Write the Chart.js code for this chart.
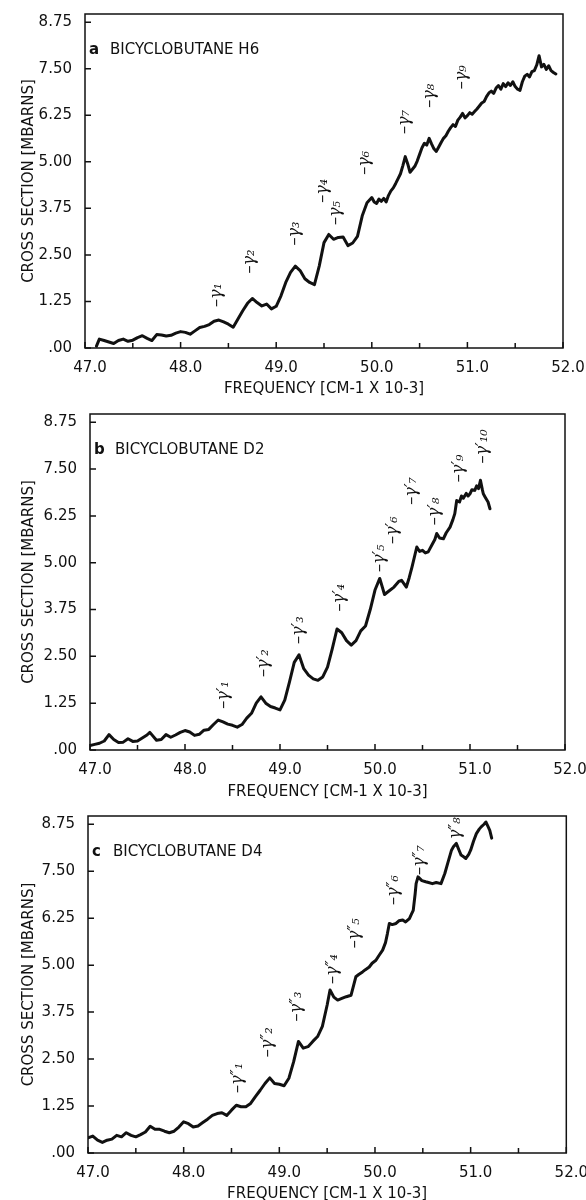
<!DOCTYPE html>
<html>
<head>
<meta charset="utf-8">
<script src="https://cdn.jsdelivr.net/npm/chart.js@4/dist/chart.umd.min.js"></script>
<style>
html, body { margin: 0; padding: 0; background: #fff; }
#wrap { position: relative; width: 586px; height: 1200px; }
canvas { position: absolute; left: 0; }
</style>
</head>
<body>
<div id="wrap">
  <canvas id="chartA" width="586" height="400" style="top:0px"></canvas>
  <canvas id="chartB" width="586" height="400" style="top:400px"></canvas>
  <canvas id="chartC" width="586" height="400" style="top:800px"></canvas>
</div>
<script>
// ticks shared by the three panels
var xTickValues = [47, 47.5, 48, 48.5, 49, 49.5, 50, 50.5, 51, 51.5, 52];
var yTickValues = [0, 1.25, 2.5, 3.75, 5, 6.25, 7.5, 8.75];

// a : bicyclobutane H6
var freqA = [47.12, 47.15, 47.2, 47.25, 47.3, 47.35, 47.4, 47.45, 47.5, 47.55, 47.6, 47.65, 47.7, 47.75, 47.8, 47.85, 47.9, 47.95,
  48.0, 48.05, 48.1, 48.15, 48.2, 48.25, 48.3, 48.35, 48.4, 48.45, 48.5, 48.55, 48.6, 48.65, 48.7, 48.75, 48.8, 48.85, 48.9, 48.95,
  49.0, 49.05, 49.1, 49.15, 49.2, 49.25, 49.3, 49.35, 49.4, 49.45, 49.5, 49.55, 49.6, 49.65, 49.7, 49.75, 49.8, 49.85, 49.9, 49.95,
  50.0, 50.025, 50.05, 50.075, 50.1, 50.125, 50.15, 50.175, 50.2, 50.225, 50.25, 50.275, 50.3, 50.325, 50.35, 50.375, 50.4, 50.425,
  50.45, 50.475, 50.5, 50.525, 50.55, 50.575, 50.6, 50.625, 50.65, 50.675, 50.7, 50.725, 50.75, 50.775, 50.8, 50.825, 50.85, 50.875,
  50.9, 50.925, 50.95, 50.975, 51.0, 51.025, 51.05, 51.075, 51.1, 51.125, 51.15, 51.175, 51.2, 51.225, 51.25, 51.275, 51.3, 51.325,
  51.35, 51.375, 51.4, 51.425, 51.45, 51.475, 51.5, 51.525, 51.55, 51.575, 51.6, 51.625, 51.65, 51.675, 51.7, 51.725, 51.75, 51.775,
  51.8, 51.825, 51.85, 51.875, 51.9, 51.925];
var crossA = [0.05, 0.24, 0.2, 0.16, 0.12, 0.2, 0.24, 0.18, 0.21, 0.28, 0.33, 0.26, 0.2, 0.36, 0.35, 0.32, 0.34, 0.4,
  0.44, 0.42, 0.37, 0.46, 0.55, 0.58, 0.63, 0.72, 0.75, 0.7, 0.64, 0.56, 0.78, 1.0, 1.2, 1.33, 1.22, 1.13, 1.18, 1.05,
  1.12, 1.4, 1.76, 2.03, 2.2, 2.08, 1.86, 1.76, 1.7, 2.2, 2.83, 3.05, 2.92, 2.97, 2.98, 2.75, 2.82, 3.0, 3.55, 3.9,
  4.04, 3.92, 3.88, 4.0, 3.94, 4.02, 3.92, 4.1, 4.22, 4.3, 4.42, 4.55, 4.68, 4.9, 5.14, 4.95, 4.72, 4.8,
  4.88, 5.02, 5.2, 5.38, 5.5, 5.45, 5.63, 5.48, 5.35, 5.28, 5.4, 5.52, 5.63, 5.7, 5.82, 5.92, 6.0, 5.95,
  6.12, 6.2, 6.3, 6.18, 6.24, 6.32, 6.28, 6.35, 6.42, 6.5, 6.58, 6.62, 6.75, 6.85, 6.9, 6.84, 6.98, 7.05,
  6.95, 7.1, 7.02, 7.12, 7.05, 7.15, 7.02, 6.95, 6.92, 7.15, 7.3, 7.35, 7.28, 7.42, 7.45, 7.6, 7.85, 7.55,
  7.62, 7.48, 7.58, 7.45, 7.4, 7.36];
var noteXA = [48.38, 48.72, 49.2, 49.49, 49.62, 49.93, 50.35, 50.61, 50.94];
var noteYA = [1.1, 2.0, 2.75, 3.9, 3.3, 4.65, 5.75, 6.45, 6.95];
var noteTA = ['–γ₁', '–γ₂', '–γ₃', '–γ₄', '–γ₅', '–γ₆', '–γ₇', '–γ₈', '–γ₉'];

// b : bicyclobutane D2
var freqB = [47.0, 47.05, 47.1, 47.15, 47.2, 47.25, 47.3, 47.35, 47.4, 47.45, 47.5, 47.55, 47.6, 47.63, 47.7, 47.75, 47.8, 47.85,
  47.9, 47.95, 48.0, 48.05, 48.1, 48.15, 48.2, 48.25, 48.3, 48.35, 48.4, 48.45, 48.5, 48.55, 48.6, 48.65, 48.7, 48.75, 48.8, 48.85,
  48.9, 48.95, 49.0, 49.05, 49.1, 49.15, 49.2, 49.25, 49.3, 49.35, 49.4, 49.45, 49.5, 49.55, 49.6, 49.65, 49.7, 49.75, 49.8, 49.85,
  49.9, 49.95, 50.0, 50.05, 50.1, 50.15, 50.2, 50.25, 50.28, 50.33, 50.36, 50.39, 50.44, 50.47, 50.5, 50.53, 50.56, 50.6, 50.63,
  50.65, 50.68, 50.72, 50.75, 50.79, 50.82, 50.84, 50.86, 50.89, 50.91, 50.93, 50.96, 50.98, 51.0, 51.02, 51.05, 51.07, 51.09,
  51.11, 51.13, 51.14, 51.16, 51.19, 51.21];
var crossB = [0.12, 0.15, 0.18, 0.24, 0.41, 0.28, 0.2, 0.21, 0.3, 0.23, 0.24, 0.32, 0.4, 0.47, 0.26, 0.28, 0.41, 0.34,
  0.4, 0.47, 0.52, 0.48, 0.39, 0.42, 0.53, 0.55, 0.68, 0.8, 0.75, 0.69, 0.66, 0.61, 0.68, 0.85, 0.98, 1.25, 1.42, 1.25,
  1.16, 1.12, 1.07, 1.33, 1.82, 2.34, 2.54, 2.17, 2.0, 1.9, 1.86, 1.95, 2.21, 2.7, 3.23, 3.13, 2.92, 2.8, 2.92, 3.18,
  3.31, 3.75, 4.27, 4.58, 4.15, 4.25, 4.35, 4.5, 4.53, 4.35, 4.6, 4.89, 5.42, 5.3, 5.33, 5.26, 5.29, 5.48, 5.62,
  5.78, 5.66, 5.64, 5.8, 5.95, 6.15, 6.31, 6.66, 6.62, 6.78, 6.72, 6.85, 6.78, 6.84, 6.95, 6.93, 7.05, 6.98,
  7.2, 6.95, 6.84, 6.75, 6.62, 6.44];
var noteXB = [48.41, 48.83, 49.2, 49.63, 50.05, 50.19, 50.39, 50.63, 50.88, 51.14];
var noteYB = [1.1, 1.95, 2.83, 3.7, 4.75, 5.5, 6.55, 6.0, 7.15, 7.65];
var noteTB = ['–γ′₁', '–γ′₂', '–γ′₃', '–γ′₄', '–γ′₅', '–γ′₆', '–γ′₇', '–γ′₈', '–γ′₉', '–γ′₁₀'];

// c : bicyclobutane D4
var freqC = [47.0, 47.05, 47.1, 47.15, 47.2, 47.25, 47.3, 47.35, 47.4, 47.45, 47.5, 47.55, 47.6, 47.65, 47.7, 47.75, 47.8, 47.85,
  47.9, 47.95, 48.0, 48.05, 48.1, 48.15, 48.2, 48.25, 48.3, 48.35, 48.4, 48.45, 48.5, 48.55, 48.6, 48.65, 48.7, 48.75, 48.8, 48.85,
  48.9, 48.95, 49.0, 49.05, 49.1, 49.15, 49.2, 49.25, 49.3, 49.35, 49.4, 49.45, 49.5, 49.53, 49.57, 49.61, 49.66, 49.7, 49.75,
  49.8, 49.83, 49.87, 49.9, 49.94, 49.97, 50.01, 50.04, 50.08, 50.11, 50.13, 50.15, 50.18, 50.22, 50.25, 50.29, 50.32, 50.36,
  50.38, 50.4, 50.42, 50.43, 50.45, 50.49, 50.53, 50.56, 50.6, 50.64, 50.69, 50.73, 50.76, 50.8, 50.82, 50.85, 50.88, 50.9,
  50.93, 50.95, 50.98, 51.0, 51.03, 51.06, 51.09, 51.11, 51.14, 51.16, 51.18, 51.2, 51.22];
var crossC = [0.4, 0.45, 0.34, 0.28, 0.34, 0.37, 0.47, 0.43, 0.54, 0.47, 0.43, 0.49, 0.56, 0.71, 0.63, 0.63, 0.58, 0.54,
  0.58, 0.69, 0.83, 0.78, 0.69, 0.72, 0.81, 0.9, 1.0, 1.05, 1.07, 1.0, 1.14, 1.27, 1.23, 1.23, 1.32, 1.5, 1.67, 1.85,
  2.0, 1.85, 1.83, 1.79, 1.99, 2.43, 2.97, 2.79, 2.83, 2.97, 3.1, 3.37, 3.94, 4.34, 4.15, 4.07, 4.12, 4.16, 4.2,
  4.69, 4.75, 4.82, 4.88, 4.95, 5.05, 5.13, 5.25, 5.4, 5.6, 5.84, 6.11, 6.08, 6.11, 6.18, 6.2, 6.15, 6.24,
  6.35, 6.46, 6.9, 7.17, 7.35, 7.25, 7.22, 7.2, 7.17, 7.2, 7.17, 7.44, 7.71, 8.06, 8.15, 8.24, 8.05, 7.93,
  7.88, 7.84, 7.95, 8.06, 8.3, 8.5, 8.62, 8.68, 8.75, 8.81, 8.7, 8.59, 8.38];
var noteXC = [48.57, 48.88, 49.18, 49.56, 49.79, 50.2, 50.47, 50.85];
var noteYC = [1.6, 2.55, 3.5, 4.5, 5.45, 6.6, 7.4, 8.35];
var noteTC = ['–γ″₁', '–γ″₂', '–γ″₃', '–γ″₄', '–γ″₅', '–γ″₆', '–γ″₇', 'γ″₈'];

Chart.defaults.font.family = '"DejaVu Sans", sans-serif';
Chart.defaults.font.size = 15;
Chart.defaults.color = '#111';

// box, inward ticks, panel name and gamma marks
function makeFrame(tag, title, nx, ny, nt) {
  return {
    id: 'frame',
    afterDatasetsDraw: function(chart) {
      var ctx = chart.ctx, a = chart.chartArea, sx = chart.scales.x, sy = chart.scales.y;
      ctx.save();
      ctx.strokeStyle = '#111';
      ctx.lineWidth = 1.5;
      ctx.strokeRect(a.left, a.top, a.right - a.left, a.bottom - a.top);
      ctx.beginPath();
      sx.ticks.forEach(function(t) {
        var px = sx.getPixelForValue(t.value);
        ctx.moveTo(px, a.bottom);
        ctx.lineTo(px, a.bottom - (Number.isInteger(t.value) ? 6 : 5));
      });
      sy.ticks.forEach(function(t) {
        var py = sy.getPixelForValue(t.value);
        ctx.moveTo(a.left, py);
        ctx.lineTo(a.left + 6, py);
      });
      ctx.stroke();

      ctx.fillStyle = '#111';
      ctx.textBaseline = 'middle';
      ctx.textAlign = 'left';
      ctx.font = 'bold 15px "DejaVu Sans"';
      ctx.fillText(tag, a.left + 4, a.top + 36);
      ctx.font = '15px "DejaVu Sans"';
      ctx.fillText(title, a.left + 25, a.top + 36);

      ctx.font = 'italic 16px "DejaVu Serif"';
      for (var i = 0; i < nx.length; i++) {
        ctx.save();
        ctx.translate(sx.getPixelForValue(nx[i]), sy.getPixelForValue(ny[i]));
        ctx.rotate(-Math.PI / 2);
        ctx.fillText(nt[i], 0, 0);
        ctx.restore();
      }
      ctx.restore();
    }
  };
}

function buildPanel(id, xs, ys, geo, tag, title, nx, ny, nt) {
  var pts = xs.map(function(v, i) { return {x: v, y: ys[i]}; });
  return new Chart(document.getElementById(id), {
    type: 'line',
    data: {
      datasets: [{
        data: pts,
        borderColor: '#111',
        borderWidth: 3,
        borderJoinStyle: 'round',
        borderCapStyle: 'round',
        pointRadius: 0,
        tension: 0,
        fill: false
      }]
    },
    options: {
      responsive: false,
      animation: false,
      devicePixelRatio: 1,
      layout: { padding: { top: geo.top, right: geo.right, left: 0, bottom: 0 } },
      plugins: { legend: { display: false }, tooltip: { enabled: false } },
      scales: {
        x: {
          type: 'linear',
          min: 47, max: 52,
          grid: { display: false },
          border: { display: false },
          afterBuildTicks: function(s) { s.ticks = xTickValues.map(function(v) { return {value: v}; }); },
          afterFit: function(s) { s.height = geo.xH; },
          ticks: {
            padding: 3,
            labelOffset: 5,
            maxRotation: 0,
            autoSkip: false,
            callback: function(v) { return Number.isInteger(v) ? v.toFixed(1) : ''; }
          },
          title: {
            display: true,
            text: 'FREQUENCY [CM-1 X 10-3]',
            font: { size: 15, lineHeight: 1 },
            padding: { top: 0, bottom: geo.titlePad }
          }
        },
        y: {
          min: 0, max: 8.97,
          grid: { display: false },
          border: { display: false },
          afterBuildTicks: function(s) { s.ticks = yTickValues.map(function(v) { return {value: v}; }); },
          afterFit: function(s) { s.width = geo.left; },
          ticks: {
            padding: 5,
            autoSkip: false,
            callback: function(v) { return v === 0 ? '.00' : v.toFixed(2); }
          },
          title: {
            display: true,
            text: 'CROSS SECTION [MBARNS]',
            font: { size: 15, lineHeight: 1 },
            padding: { top: 22, bottom: 0 }
          }
        }
      }
    },
    plugins: [makeFrame(tag, title, nx, ny, nt)]
  });
}

buildPanel('chartA', freqA, crossA, {top: 12, right: 23, left: 85, xH: 52, titlePad: 3},
  'a', 'BICYCLOBUTANE H6', noteXA, noteYA, noteTA);
buildPanel('chartB', freqB, crossB, {top: 13, right: 21, left: 90, xH: 50, titlePad: 0},
  'b', 'BICYCLOBUTANE D2', noteXB, noteYB, noteTB);
buildPanel('chartC', freqC, crossC, {top: 16, right: 19, left: 88, xH: 47, titlePad: -2},
  'c', 'BICYCLOBUTANE D4', noteXC, noteYC, noteTC);
</script>
</body>
</html>
